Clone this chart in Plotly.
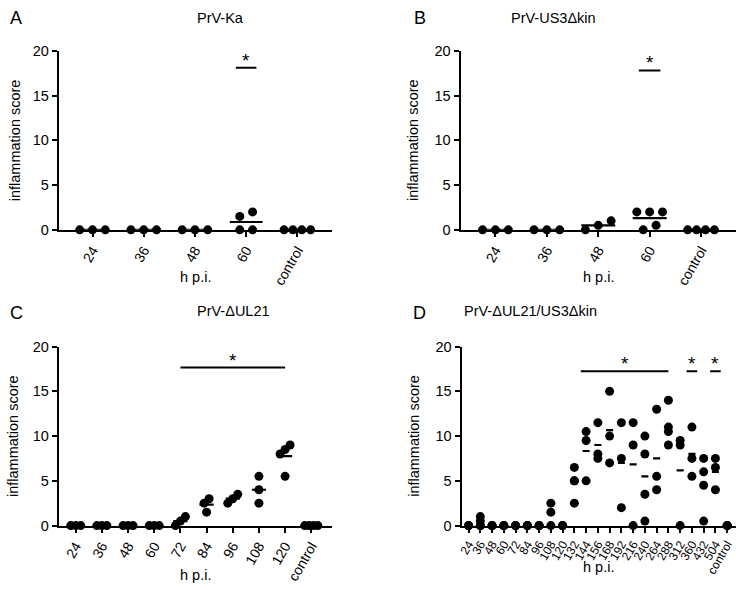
import plotly.graph_objects as go

W, H = 736, 590
FONT = "Arial, 'Liberation Sans', sans-serif"

# ---------------- data ----------------
cats_a = ["24", "36", "48", "60", "control"]
vals_a = [[0, 0, 0], [0, 0, 0], [0, 0, 0], [1.5, 2, 0, 0], [0, 0, 0, 0]]
sig_a = [("60", "60", 18.1)]

cats_b = ["24", "36", "48", "60", "control"]
vals_b = [[0, 0, 0], [0, 0, 0], [1, 0, 0.5], [2, 2, 2, 0, 0.5], [0, 0, 0, 0]]
sig_b = [("60", "60", 17.8)]

cats_c = ["24", "36", "48", "60", "72", "84", "96", "108", "120", "control"]
vals_c = [[0, 0, 0], [0, 0, 0], [0, 0, 0], [0, 0, 0], [1, 0, 0.5],
          [2.5, 1.5, 3], [3.5, 2.5, 3], [5.5, 2.5, 4], [9, 8, 8.5, 5.5], [0, 0, 0, 0]]
sig_c = [("72", "120", 17.65)]

cats_d = ["24", "36", "48", "60", "72", "84", "96", "108", "120", "132", "144",
          "156", "168", "192", "216", "240", "264", "288", "312", "360", "432",
          "504", "control"]
vals_d = [[0, 0, 0], [1, 0.5, 0, 0], [0, 0, 0], [0, 0, 0], [0, 0, 0], [0, 0, 0],
          [0, 0, 0], [2.5, 1.5, 0], [0, 0, 0], [6.5, 5, 5, 2.5], [10.5, 9.5, 5],
          [11.5, 8, 7.5], [15, 10, 7], [11.5, 7.5, 2], [11.5, 9, 0],
          [10, 8, 3.5, 0.5], [13, 5.5, 4], [14, 11, 10.5, 9], [9.5, 9, 0],
          [11, 7.5, 5.5], [7.5, 6, 4.5, 0.5], [7.5, 6.5, 4], [0, 0, 0]]
sig_d = [("144", "288", 17.25), ("360", "360", 17.25), ("504", "504", 17.25)]

yticks = [0, 5, 10, 15, 20]

# ---------------- layout styles ----------------
panels = [
    dict(cats=cats_a, vals=vals_a, sig=sig_a, title="PrV-Ka", letter="A",
         px=(55, 330), py=(44, 228), xr=[-0.66, 4.68], step=0.25, maxw=0.52,
         mhw=0.32, pad=(0.2, 0.2), ylab_x=11, xlab_y=277, title_y=10,
         letter_xy=(12, 10), tfs=14),
    dict(cats=cats_b, vals=vals_b, sig=sig_b, title="PrV-US3\u0394kin", letter="B",
         px=(459, 736), py=(44, 228), xr=[-0.68, 4.68], step=0.25, maxw=0.52,
         mhw=0.33, pad=(0.21, 0.21), ylab_x=412, xlab_y=277, title_y=10,
         letter_xy=(418, 10), tfs=14),
    dict(cats=cats_c, vals=vals_c, sig=sig_c, title="PrV-\u0394UL21", letter="C",
         px=(55, 330), py=(348, 532), xr=[-0.65, 9.8], step=0.19, maxw=0.5,
         mhw=0.27, pad=(0.0, 0.0), ylab_x=9, xlab_y=583, title_y=311,
         letter_xy=(13, 314), tfs=14),
    dict(cats=cats_d, vals=vals_d, sig=sig_d, title="PrV-\u0394UL21/US3\u0394kin", letter="D",
         px=(460, 736), py=(348, 532), xr=[-0.6, 22.75], step=0.0, maxw=0.0,
         mhw=0.3, pad=(0.45, 0.45), ylab_x=412, xlab_y=575, title_y=311,
         letter_xy=(418, 314), tfs=12),
]


def spread(values, step, maxw, thr=0.9):
    """GraphPad-like horizontal spreading of overlapping points."""
    order = sorted(range(len(values)), key=lambda i: values[i])
    groups, cur = [], [order[0]]
    for i in order[1:]:
        if values[i] - values[cur[-1]] < thr:
            cur.append(i)
        else:
            groups.append(cur)
            cur = [i]
    groups.append(cur)
    offs = [0.0] * len(values)
    for g in groups:
        n = len(g)
        if n == 1:
            continue
        s = min(step, maxw / (n - 1)) if maxw > 0 else 0
        for k, i in enumerate(g):
            offs[i] = (k - (n - 1) / 2) * s
    return offs


fig = go.Figure()
annotations = []
shapes = []


def px2x(x):
    return x / W


def px2y(y):
    return 1 - y / H


for k, p in enumerate(panels):
    ax = "" if k == 0 else str(k + 1)
    xref, yref = "x" + ax, "y" + ax
    cats = p["cats"]
    xs, ys = [], []
    mx, my = [], []
    for ci, vals in enumerate(p["vals"]):
        offs = spread(vals, p["step"], p["maxw"])
        for v, o in zip(vals, offs):
            xs.append(ci + o)
            ys.append(v)
        m = sum(vals) / len(vals)
        mx += [ci - p["mhw"], ci + p["mhw"], None]
        my += [m, m, None]
    fig.add_trace(go.Scatter(x=mx, y=my, mode="lines", xaxis=xref, yaxis=yref,
                             line=dict(color="black", width=2.2), cliponaxis=False,
                             showlegend=False, hoverinfo="skip"))
    fig.add_trace(go.Scatter(x=xs, y=ys, mode="markers", xaxis=xref, yaxis=yref,
                             marker=dict(color="black", size=9, line=dict(width=0)),
                             cliponaxis=False, showlegend=False))

    dom_x = [px2x(p["px"][0]), px2x(p["px"][1])]
    dom_y = [px2y(p["py"][1]), px2y(p["py"][0])]
    fig.update_layout(**{
        "xaxis" + ax: dict(domain=dom_x, range=p["xr"], anchor=yref,
                           tickvals=list(range(len(cats))), ticktext=cats,
                           tickangle=-60, ticks="outside", ticklen=5, tickwidth=1.6,
                           tickcolor="black", showline=True, linewidth=2,
                           linecolor="black", showgrid=False, zeroline=False,
                           tickfont=dict(size=p["tfs"], color="black", family=FONT)),
        "yaxis" + ax: dict(domain=dom_y, range=[0, 20], anchor=xref,
                           tickvals=yticks, ticks="outside", ticklen=5, tickwidth=1.6,
                           tickcolor="black", showline=True, linewidth=2,
                           linecolor="black", showgrid=False, zeroline=False,
                           tickfont=dict(size=14.5, color="black", family=FONT)),
    })

    # significance bars
    for (c0, c1, yv) in p["sig"]:
        i0, i1 = cats.index(c0), cats.index(c1)
        if i0 == i1:
            x0, x1 = i0 - p["pad"][0], i1 + p["pad"][1]
        else:
            x0, x1 = i0 - (p["pad"][0] if k == 3 else 0), i1
        shapes.append(dict(type="line", xref=xref, yref=yref, x0=x0, x1=x1,
                           y0=yv, y1=yv, line=dict(color="black", width=2)))
        annotations.append(dict(xref=xref, yref=yref, x=(x0 + x1) / 2, y=yv,
                                text="*", showarrow=False, yanchor="bottom",
                                yshift=-5, font=dict(size=19, color="black", family=FONT)))

    cx = (p["px"][0] + p["px"][1]) / 2
    annotations.append(dict(xref="paper", yref="paper", x=px2x(cx), y=px2y(p["title_y"]),
                            text=p["title"], showarrow=False, yanchor="middle",
                            font=dict(size=14.5, color="black", family=FONT)))
    annotations.append(dict(xref="paper", yref="paper", x=px2x(p["letter_xy"][0]),
                            y=px2y(p["letter_xy"][1]), text=p["letter"], showarrow=False,
                            yanchor="middle", xanchor="center",
                            font=dict(size=18, color="black", family=FONT)))
    annotations.append(dict(xref="paper", yref="paper", x=px2x(p["ylab_x"]),
                            y=px2y((p["py"][0] + p["py"][1]) / 2), text="inflammation score",
                            textangle=-90, showarrow=False, xanchor="center", yanchor="middle",
                            font=dict(size=14.5, color="black", family=FONT)))
    annotations.append(dict(xref="paper", yref="paper", x=px2x(cx), y=px2y(p["xlab_y"]),
                            text="h p.i.", showarrow=False, xanchor="center", yanchor="middle",
                            font=dict(size=14.5, color="black", family=FONT)))

fig.update_layout(width=W, height=H, margin=dict(l=0, r=0, t=0, b=0),
                  plot_bgcolor="white", paper_bgcolor="white",
                  annotations=annotations, shapes=shapes,
                  font=dict(family=FONT, color="black"))

fig.write_html("out.html", config={"displayModeBar": False},
               post_script="document.body.style.margin='0px';document.body.style.padding='0px';")
